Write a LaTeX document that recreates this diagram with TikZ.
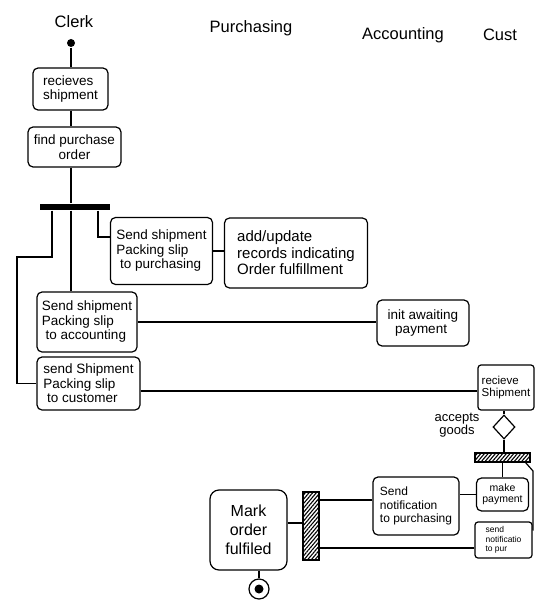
\documentclass[tikz,border=0pt]{standalone}
\usepackage{fontspec}
\setmainfont{Liberation Sans}
\usetikzlibrary{patterns.meta,shapes.geometric}
\begin{document}
\begin{tikzpicture}[x=1pt,y=-1pt, line width=1.2pt,
  act/.style={draw, rounded corners=5pt, inner sep=2pt, align=left, font=\fontsize{13.5}{14.5}\selectfont},
  lane/.style={font=\fontsize{16.5}{18}\selectfont},
  lbl/.style={align=center, font=\fontsize{13}{13.5}\selectfont},
  hatchbar/.style={draw, pattern={Lines[angle=50,distance=2.8pt,line width=1.1pt]}, inner sep=0pt},
  forkbar/.style={fill=black, inner sep=0pt}]
\useasboundingbox (0,0) rectangle (537,604);
\fill[white] (0,0) rectangle (537,604);
% swimlane headers
\node[lane] (hclerk) at (74,22) {Clerk};
\node[lane] (hpur) at (251,28) {Purchasing};
\node[lane] (hacc) at (403,35) {Accounting};
\node[lane] (hcust) at (500,35) {Cust};
% start
\node[circle, fill=black, minimum size=8pt, inner sep=0pt] (start) at (71,43) {};
% activities
\node[act, minimum width=75pt, minimum height=42pt] (recv) at (70.5,89) {recieves\\shipment};
\node[act, align=center, minimum width=93pt, minimum height=40pt] (find) at (74.5,147) {find purchase\\order};
\node[forkbar, minimum width=70pt, minimum height=6pt] (fork) at (75,207) {};
\node[act, minimum width=102pt, minimum height=67pt] (sendP) at (161.5,251) {Send shipment\\Packing slip\\\ to purchasing};
\node[act, font=\fontsize{15}{16.5}\selectfont, minimum width=143pt, minimum height=70pt] (addupd) at (296,253) {add/update\\records indicating\\Order fulfillment};
\node[act, minimum width=100pt, minimum height=60pt] (sendA) at (87,322) {Send shipment\\Packing slip\\\ to accounting};
\node[act, minimum width=92pt, minimum height=46pt] (init) at (423,323) {init awaiting\\\ \ payment};
\node[act, minimum width=103pt, minimum height=53pt] (sendC) at (88.5,383.5) {send Shipment\\Packing slip\\\ to customer};
\node[act, font=\fontsize{11.5}{12.5}\selectfont, rounded corners=3pt, minimum width=56pt, minimum height=45pt] (recvS) at (506,387.5) {recieve\\Shipment};
\node[draw, diamond, minimum width=22pt, minimum height=24pt, inner sep=0pt] (dec) at (504,427) {};
\node[lbl] (acc) at (457,425) {accepts\\goods};
\node[hatchbar, minimum width=55pt, minimum height=9pt] (join) at (502.5,457.5) {};
\node[act, align=center, font=\fontsize{10.5}{11.5}\selectfont, minimum width=52pt, minimum height=33pt] (makeP) at (502.5,494.5) {make\\payment};
\node[act, font=\fontsize{8.5}{9.5}\selectfont, rounded corners=3pt, minimum width=57pt, minimum height=36pt] (sendNP) at (503.5,540) {send\\notificatio\\to pur};
\node[act, font=\fontsize{12}{13.5}\selectfont, minimum width=86pt, minimum height=58pt] (sendN) at (416,506) {Send\\notification\\to purchasing};
\node[hatchbar, minimum width=16pt, minimum height=68pt] (vbar) at (311,526) {};
\node[act, align=center, font=\fontsize{16}{19}\selectfont, rounded corners=9pt, minimum width=77pt, minimum height=80pt] (mark) at (248.5,530) {Mark\\order\\fulfiled};
% end
\node[circle, draw, minimum size=20pt, inner sep=0pt] (end) at (259,589) {};
\node[circle, fill=black, minimum size=9pt, inner sep=0pt] (endin) at (259,589) {};
% routing coordinates
\coordinate (k1) at (52,257);
\coordinate (k2) at (17,257);
\coordinate (k3) at (98,237);
\coordinate (k4) at (0,391);
\coordinate (k6) at (533,471);
% connectors
\draw (start) -- (start |- recv.north);
\draw (recv.south -| start) -- (find.north -| start);
\draw (find.south -| start) -- (fork.north -| start);
\draw (fork.south -| start) -- (sendA.north -| start);
\draw (fork.south -| k1) -- (k1) -- (k2) |- (sendC.west);
\draw (fork.south -| k3) -- (k3) -- (k3 -| sendP.west);
\draw (sendP.east) -- (sendP.east -| addupd.west);
\draw (sendA.east) -- (sendA.east -| init.west);
\draw (sendC.east |- k4) -- (recvS.west |- k4);
\draw (recvS.south -| dec) -- (dec.north);
\draw (dec.south) -- (join.north -| dec);
\draw (join.south -| makeP) -- (makeP.north);
\draw ([xshift=-5pt]join.south east) -- (k6) |- ([yshift=10pt]sendNP.east);
\draw (makeP.west) -- (makeP.west -| sendN.east);
\draw ([yshift=6pt]sendN.west) -- ([yshift=6pt]sendN.west -| vbar.east);
\draw ([yshift=-8pt]sendNP.west) -- ([yshift=-8pt]sendNP.west -| vbar.east);
\draw ([yshift=3pt]vbar.west) -- ([yshift=3pt]vbar.west -| mark.east);
\draw (end.north |- mark.south) -- (end.north);
\end{tikzpicture}
\end{document}
